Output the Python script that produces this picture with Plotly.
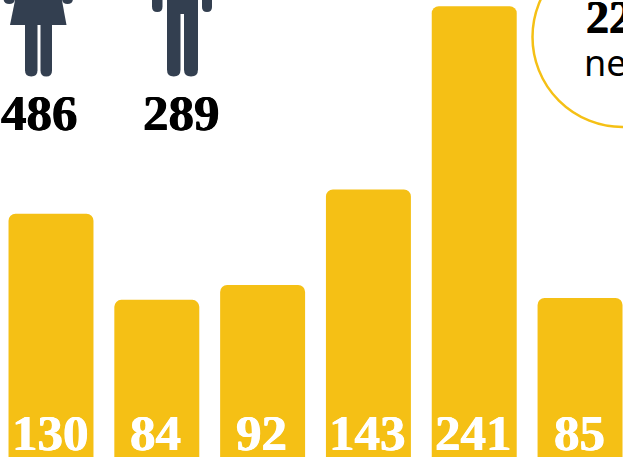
import plotly.graph_objects as go

categories = ["A", "B", "C", "D", "E", "F"]
values = [130, 84, 92, 143, 241, 85]
gender_labels = ["486", "289"]
callout_number = "22"
callout_word = "ne"

W, H = 623, 459
YELLOW = "#f5c015"
NAVY = "#333f50"
SERIF = "Liberation Serif, serif"

def px(x): return x / W
def py(y): return 1 - y / H
def path(points):
    return "M " + " L ".join(f"{px(x):.5f},{py(y):.5f}" for x, y in points) + " Z"

def capsule(x0, x1, y0, y1):
    r = (x1 - x0) / 2
    return (f"M {px(x0):.5f},{py(y0):.5f} L {px(x1):.5f},{py(y0):.5f} L {px(x1):.5f},{py(y1-r):.5f} "
            f"Q {px(x1):.5f},{py(y1):.5f} {px((x0+x1)/2):.5f},{py(y1):.5f} "
            f"Q {px(x0):.5f},{py(y1):.5f} {px(x0):.5f},{py(y1-r):.5f} Z")

person_paths = [
    # woman
    path([(15.5, -2), (61.5, -2), (66.5, 25), (10, 25)]),
    capsule(25, 37.5, 20, 76.5),
    capsule(40.5, 52, 20, 76.5),
    capsule(3.5, 15, -10, 4),
    capsule(62, 73, -10, 4),
    # man
    path([(167, -2), (198, -2), (198, 14), (167, 14)]),
    capsule(167, 180.5, 10, 76.5),
    capsule(184, 198, 10, 76.5),
    capsule(152, 162.5, -10, 12),
    capsule(202, 212, -10, 12),
]

fig = go.Figure(go.Bar(
    x=list(range(len(values))), y=values,
    width=0.803,
    marker=dict(color=YELLOW, cornerradius=7, line_width=0),
    hoverinfo="skip",
))

shapes = [dict(type="path", path=p, xref="paper", yref="paper", fillcolor=NAVY, line_width=0, layer="above")
          for p in person_paths]
shapes.append(dict(type="circle", xref="paper", yref="paper",
                   x0=px(532.5), x1=px(712.5), y0=py(127), y1=py(-53),
                   line=dict(color=YELLOW, width=2.5), fillcolor="rgba(0,0,0,0)"))

BLACK_BOLD = dict(family=SERIF, size=51, color="black", weight="bold", shadow="0.6px 0 0 black, -0.6px 0 0 black")
WHITE_BOLD = dict(family=SERIF, size=51, color="white", weight="bold", shadow="0.6px 0 0 white, -0.6px 0 0 white")

annotations = [
    dict(text=gender_labels[0], xref="paper", yref="paper", x=px(39), y=py(113), font=BLACK_BOLD),
    dict(text=gender_labels[1], xref="paper", yref="paper", x=px(181), y=py(113), font=BLACK_BOLD),
    dict(text=callout_number, xref="paper", yref="paper", x=px(585), y=py(18), xanchor="left",
         font=dict(family=SERIF, size=46, color="black", weight="bold", shadow="0.6px 0 0 black, -0.6px 0 0 black")),
    dict(text=callout_word, xref="paper", yref="paper", x=px(583), y=py(62), xanchor="left",
         font=dict(family="Noto Sans", size=36, color="black")),
]
for i, v in enumerate(values):
    annotations.append(dict(text=str(v), x=i, y=0, yshift=24, xshift=-1, font=WHITE_BOLD))
for a in annotations:
    a.update(showarrow=False, borderpad=0, yanchor="middle")
    a.setdefault("xanchor", "center")

fig.update_layout(
    width=W, height=H, margin=dict(l=0, r=0, t=0, b=0),
    paper_bgcolor="white", plot_bgcolor="white", showlegend=False,
    xaxis=dict(visible=False, range=[-0.482, 5.406]),
    yaxis=dict(visible=False, range=[-1.07, 244.3]),
    shapes=shapes, annotations=annotations,
)
fig.write_html("out.html", config={"displayModeBar": False},
               post_script="document.body.style.margin='0';document.body.style.overflow='hidden';")
